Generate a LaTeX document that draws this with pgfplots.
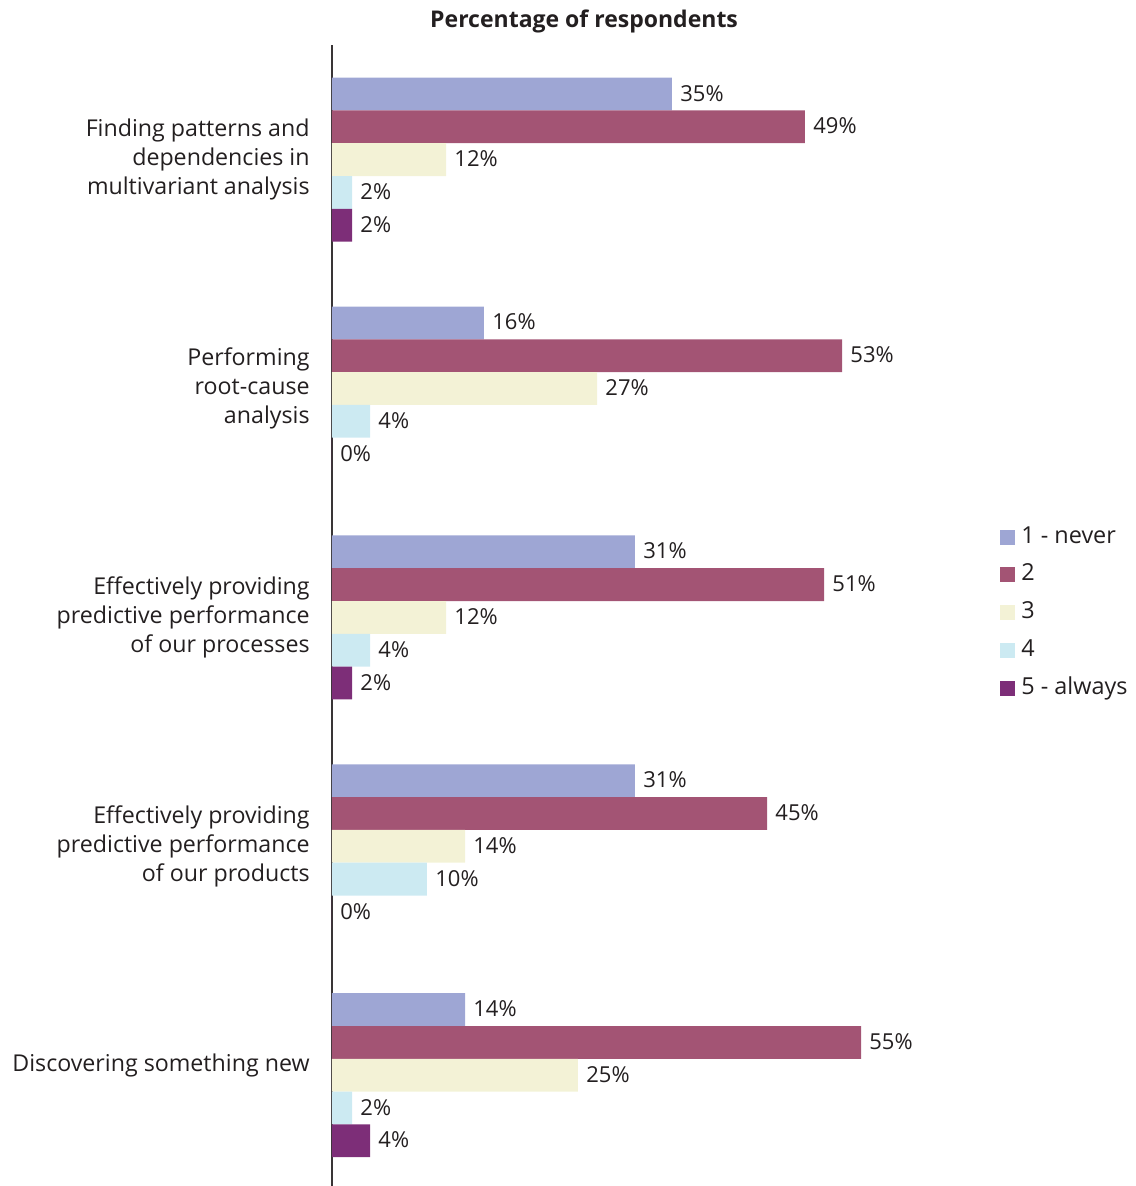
\documentclass[border=0pt]{standalone}
\usepackage{pgfplots}
\pgfplotsset{compat=1.18}
\usepackage{fontspec}
\setmainfont{Open Sans}
\definecolor{cA}{HTML}{9EA6D4}
\definecolor{cB}{HTML}{A35474}
\definecolor{cC}{HTML}{F3F2D6}
\definecolor{cD}{HTML}{CCEAF2}
\definecolor{cE}{HTML}{7D2E78}
\definecolor{txt}{HTML}{231F20}
\begin{document}
\begin{tikzpicture}
\useasboundingbox (-166pt,0pt) rectangle (401.5pt,593pt);
\begin{axis}[
  at={(0pt,0pt)}, anchor=south west,
  scale only axis, width=290.4pt, height=570.4pt,
  xmin=0, xmax=60, ymin=-0.5, ymax=4.484, y dir=reverse,
  axis x line=none, axis y line*=left,
  y axis line style={line width=0.7pt, draw=txt!90, -},
  xtick=\empty, ytick={0,1,2,3,4},
  yticklabels={{Finding patterns and\\dependencies in\\multivariant analysis},
               {Performing\\root-cause\\analysis},
               {Effectively providing\\predictive performance\\of our processes},
               {Effectively providing\\predictive performance\\of our products},
               {\raisebox{2pt}[0pt][0pt]{Discovering something new}}},
  yticklabel style={align=right, font=\fontsize{11.6}{14.6}\selectfont, text=txt, inner sep=0pt, xshift=-11pt},
  major tick length=0pt,
  xbar, bar width=16.4pt, bar shift=0pt,
  point meta=explicit symbolic,
  nodes near coords={\pgfplotspointmeta\%},
  every node near coord/.append style={anchor=west, inner sep=0pt, xshift=4pt, yshift=0.4pt, font=\fontsize{11}{12}\selectfont, text=txt},
  title={Percentage of respondents},
  title style={at={(0.434,1)}, anchor=center, yshift=6pt, font=\bfseries\fontsize{11.5}{12}\selectfont, text=txt},
  legend style={at={(1,0.5)}, anchor=west, xshift=43.6pt, yshift=1.5pt, draw=none, fill=none, inner sep=0pt,
     font=\fontsize{11.7}{12}\selectfont, text=txt, row sep=8.85pt,
     nodes={inner sep=0pt, text height=8pt, text depth=2pt},
     /tikz/every odd column/.append style={column sep=3pt}},
  legend cell align=left,
  legend image code/.code={\fill[#1] (0pt,-3.75pt) rectangle (7.5pt,3.75pt);},
  clip=false,
]
\addplot[fill=cA, draw=none] coordinates {(35.12,-0.2866) [35] (15.70,0.7134) [16] (31.30,1.7134) [31] (31.30,2.7134) [31] (13.74,3.7134) [14]};
\addplot[fill=cB, draw=none] coordinates {(48.86,-0.1433) [49] (52.69,0.8567) [53] (50.83,1.8567) [51] (44.94,2.8567) [45] (54.65,3.8567) [55]};
\addplot[fill=cC, draw=none] coordinates {(11.78,0) [12] (27.38,1) [27] (11.78,2) [12] (13.74,3) [14] (25.41,4) [25]};
\addplot[fill=cD, draw=none] coordinates {(2.07,0.1433) [2] (3.93,1.1433) [4] (3.93,2.1433) [4] (9.81,3.1433) [10] (2.07,4.1433) [2]};
\addplot[fill=cE, draw=none] coordinates {(2.07,0.2866) [2] (0,1.2866) [0] (2.07,2.2866) [2] (0,3.2866) [0] (3.93,4.2866) [4]};
\legend{1 - never, 2, 3, 4, 5 - always}
\end{axis}
\end{tikzpicture}
\end{document}
